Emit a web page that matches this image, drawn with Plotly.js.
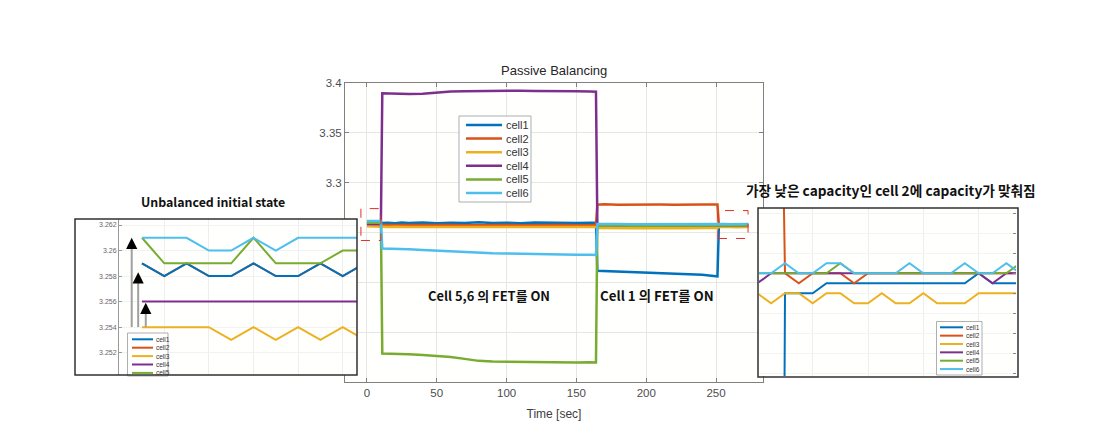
<!DOCTYPE html>
<html><head><meta charset="utf-8">
<script src="https://cdn.plot.ly/plotly-3.0.1.min.js"></script>
<style>html,body{margin:0;padding:0;background:#fff}</style>
</head><body><div id="chart" style="width:1102px;height:437px"></div>
<script>
// ---------- series names / colours ----------
const cellNames = ['cell1','cell2','cell3','cell4','cell5','cell6'];
const cellColors = ['#0072BD','#D95319','#EDB120','#7E2F8E','#77AC30','#4DBEEE'];

// ---------- main chart: Passive Balancing ----------
const timeSec = [0,3,6,9,10,11,15,20,25,30,40,50,60,70,80,90,100,110,120,130,140,150,160,164,165,170,180,190,200,210,220,230,240,250,251,252,256,260,265,270,273];
const cell1V = [3.2600,3.2597,3.2601,3.2598,3.2600,3.2596,3.2598,3.2593,3.2600,3.2596,3.2601,3.2594,3.2599,3.2595,3.2602,3.2596,3.2599,3.2594,3.2600,3.2597,3.2601,3.2595,3.2599,3.2597,3.2115,3.2112,3.2106,3.2101,3.2098,3.2093,3.2088,3.2081,3.2077,3.2062,3.2060,3.2565,3.2568,3.2566,3.2568,3.2566,3.2567];
const cell2V = [3.2578,3.2576,3.2579,3.2577,3.2578,3.2574,3.2576,3.2573,3.2577,3.2574,3.2576,3.2572,3.2575,3.2573,3.2576,3.2572,3.2575,3.2573,3.2576,3.2572,3.2575,3.2573,3.2576,3.2574,3.2780,3.2783,3.2779,3.2782,3.2778,3.2781,3.2779,3.2783,3.2780,3.2782,3.2781,3.2578,3.2575,3.2577,3.2575,3.2577,3.2576];
const cell3V = [3.2562,3.2560,3.2563,3.2561,3.2562,3.2556,3.2554,3.2557,3.2553,3.2556,3.2554,3.2557,3.2553,3.2556,3.2554,3.2557,3.2553,3.2556,3.2554,3.2557,3.2553,3.2556,3.2554,3.2555,3.2546,3.2544,3.2547,3.2543,3.2546,3.2544,3.2547,3.2543,3.2546,3.2544,3.2545,3.2555,3.2552,3.2556,3.2553,3.2555,3.2554];
const cell4V = [3.2585,3.2584,3.2586,3.2585,3.2585,3.3897,3.3895,3.3892,3.3890,3.3890,3.3893,3.3905,3.3915,3.3918,3.3920,3.3922,3.3925,3.3922,3.3920,3.3921,3.3918,3.3917,3.3915,3.3913,3.2570,3.2569,3.2571,3.2568,3.2570,3.2569,3.2571,3.2568,3.2570,3.2569,3.2570,3.2572,3.2570,3.2573,3.2571,3.2572,3.2571];
const cell5V = [3.2598,3.2597,3.2599,3.2598,3.2598,3.1285,3.1282,3.1283,3.1280,3.1278,3.1272,3.1262,3.1250,3.1232,3.1212,3.1205,3.1203,3.1198,3.1200,3.1196,3.1198,3.1195,3.1197,3.1196,3.2568,3.2566,3.2569,3.2567,3.2568,3.2566,3.2569,3.2567,3.2568,3.2566,3.2567,3.2568,3.2570,3.2567,3.2569,3.2568,3.2569];
const cell6V = [3.2615,3.2613,3.2616,3.2614,3.2615,3.2340,3.2339,3.2338,3.2335,3.2332,3.2325,3.2318,3.2310,3.2303,3.2297,3.2293,3.2290,3.2289,3.2286,3.2284,3.2282,3.2278,3.2276,3.2275,3.2585,3.2583,3.2586,3.2584,3.2585,3.2583,3.2586,3.2584,3.2585,3.2583,3.2584,3.2584,3.2586,3.2583,3.2585,3.2584,3.2585];
const mainSeries = [cell1V,cell2V,cell3V,cell4V,cell5V,cell6V];
const mainXTicks = [0,50,100,150,200,250];
const mainYTicks = [3.15,3.2,3.25,3.3,3.35,3.4];

// ---------- left inset: Unbalanced initial state ----------
const initIdx = [0,1,2,3,4,5,6,7,8,9,10];
const init1 = [3.259,3.258,3.259,3.258,3.258,3.259,3.258,3.258,3.259,3.258,3.259];
const init2 = [3.259,3.258,3.259,3.258,3.258,3.259,3.258,3.258,3.259,3.258,3.259];
const init3 = [3.254,3.254,3.254,3.254,3.253,3.254,3.253,3.254,3.253,3.254,3.253];
const init4 = [3.256,3.256,3.256,3.256,3.256,3.256,3.256,3.256,3.256,3.256,3.256];
const init5 = [3.261,3.259,3.259,3.259,3.259,3.261,3.259,3.259,3.259,3.260,3.260];
const init6 = [3.261,3.261,3.261,3.260,3.260,3.261,3.260,3.261,3.261,3.261,3.261];
const initSeries = [init1,init2,init3,init4,init5,init6];
const initDrawOrder = [1,0,2,3,4,5];   // cell2 lies under cell1
// arrows: sample position, tail value, head value
const arrowIdx = [-0.46,-0.17,0.17];
const arrowTail = [3.2539,3.2539,3.2539];
const arrowHead = [3.2610,3.2583,3.2559];

// ---------- right inset: after balancing ----------
const endIdxA = [0,1,1.8,2,3,4,5,6,7,8,9,10,11,12,13,14,15,16,17,18,19];
const endIdxB = [0,1,2,3,4,5,6,7,8,9,10,11,12,13,14,15,16,17,18,19];
const end1 = [3.2062,3.2062,3.2062,3.259,3.259,3.259,3.260,3.260,3.260,3.260,3.260,3.260,3.260,3.260,3.260,3.260,3.260,3.261,3.260,3.260,3.260];
const end2 = [3.278,3.278,3.278,3.261,3.260,3.261,3.261,3.261,3.260,3.261,3.261,3.261,3.261,3.261,3.261,3.261,3.261,3.261,3.261,3.261,3.261];
const end3 = [3.259,3.258,3.259,3.259,3.258,3.259,3.259,3.258,3.258,3.259,3.258,3.258,3.259,3.258,3.258,3.258,3.259,3.259,3.259,3.259];
const end4 = [3.260,3.261,3.261,3.261,3.261,3.261,3.261,3.261,3.261,3.261,3.261,3.261,3.261,3.261,3.261,3.261,3.261,3.260,3.261,3.261];
const end5 = [3.261,3.261,3.261,3.261,3.261,3.261,3.262,3.261,3.261,3.261,3.261,3.261,3.261,3.261,3.261,3.261,3.261,3.261,3.261,3.262];
const end6 = [3.261,3.261,3.262,3.261,3.261,3.262,3.262,3.261,3.261,3.261,3.261,3.262,3.261,3.261,3.261,3.262,3.261,3.261,3.262,3.261];
const endSeries = [end1,end2,end3,end4,end5,end6];
const endX = [endIdxA,endIdxA,endIdxB,endIdxB,endIdxB,endIdxB];

// ---------- texts ----------
const mainTitle = 'Passive Balancing';
const xTitle = 'Time [sec]';
const leftTitle = 'Unbalanced initial state';
const rightTitle = '가장 낮은 capacity인 cell 2에 capacity가 맞춰짐';
const note1 = 'Cell 5,6 의 FET를 ON';
const note2 = 'Cell 1 의 FET를 ON';

// ---------- helpers ----------
const W = 1102, H = 437;
const px = x => x / W;
const py = y => 1 - y / H;
const LAT = 'Liberation Sans, Arial, sans-serif';
const KR = 'Noto Sans CJK KR, sans-serif';

const traces = [];
mainSeries.forEach((v, i) => traces.push({
  x: timeSec, y: v, type: 'scatter', mode: 'lines', name: cellNames[i],
  xaxis: 'x', yaxis: 'y', line: {color: cellColors[i], width: 2.5}, showlegend: false
}));
initDrawOrder.forEach(i => traces.push({
  x: initIdx, y: initSeries[i], type: 'scatter', mode: 'lines', name: cellNames[i],
  xaxis: 'x2', yaxis: 'y2', line: {color: cellColors[i], width: 2}, showlegend: false
}));
endSeries.forEach((v, i) => traces.push({
  x: endX[i], y: v, type: 'scatter', mode: 'lines', name: cellNames[i],
  xaxis: 'x3', yaxis: 'y3', line: {color: cellColors[i], width: 2}, showlegend: false
}));

const shapes = [];
const annotations = [];

function drawLegend(box, y0, dy, lx0, lx1, tx, fs, lw, n) {
  shapes.push({type: 'rect', xref: 'paper', yref: 'paper', layer: 'above',
    x0: px(box[0]), x1: px(box[1]), y0: py(box[3]), y1: py(box[2]),
    fillcolor: '#ffffff', line: {color: '#9a9a9a', width: 0.8}});
  for (let i = 0; i < n; i++) {
    const y = y0 + dy * i;
    shapes.push({type: 'line', xref: 'paper', yref: 'paper', layer: 'above',
      x0: px(lx0), x1: px(lx1), y0: py(y), y1: py(y),
      line: {color: cellColors[i], width: lw}});
    annotations.push({xref: 'paper', yref: 'paper', x: px(tx), y: py(y),
      xanchor: 'left', yanchor: 'middle', showarrow: false, text: cellNames[i],
      font: {family: LAT, size: fs, color: '#333'}});
  }
}

// main legend
drawLegend([459, 531, 116, 202], 125, 13.6, 466, 502, 504, 11, 2.5, 6);
// left inset legend (cut by the frame)
drawLegend([127.5, 168, 333, 376], 339.3, 8.4, 132, 153, 154, 6.5, 2, 5);
// right inset legend
drawLegend([936.5, 982, 321.5, 375], 327.3, 8.35, 940, 963, 964, 6.5, 2, 6);

// inset frames
shapes.push({type: 'rect', xref: 'paper', yref: 'paper', layer: 'above',
  x0: px(75), x1: px(357), y0: py(375), y1: py(219), line: {color: '#303030', width: 1.5}});
shapes.push({type: 'rect', xref: 'paper', yref: 'paper', layer: 'above',
  x0: px(758), x1: px(1018), y0: py(377), y1: py(208), line: {color: '#303030', width: 1.5}});

// red dashed boxes on the main chart
shapes.push({type: 'rect', xref: 'x', yref: 'y', layer: 'above',
  x0: -4.3, x1: 10.0, y0: 3.242, y1: 3.274, line: {color: '#e0302a', width: 1, dash: 'dash'}});
shapes.push({type: 'rect', xref: 'x', yref: 'y', layer: 'above',
  x0: 251.4, x1: 272.9, y0: 3.244, y1: 3.272, line: {color: '#e0302a', width: 1, dash: 'dash'}});

// arrows in left inset
arrowIdx.forEach((k, i) => {
  annotations.push({xref: 'x2', yref: 'y2', axref: 'x2', ayref: 'y2',
    x: k, y: arrowHead[i] - 0.0004, ax: k, ay: arrowTail[i], text: '', showarrow: true,
    arrowhead: 0, arrowwidth: 2, arrowcolor: '#a0a0a0'});
  annotations.push({xref: 'x2', yref: 'y2', axref: 'x2', ayref: 'y2',
    x: k, y: arrowHead[i], ax: k, ay: arrowHead[i] - 0.0005, text: '', showarrow: true,
    arrowhead: 2, arrowsize: 1.4, arrowwidth: 1.6, arrowcolor: '#000'});
});

// titles and notes
annotations.push({xref: 'paper', yref: 'paper', x: px(554), y: py(70), showarrow: false,
  text: mainTitle, xanchor: 'center', yanchor: 'middle', font: {family: LAT, size: 13, color: '#262626'}});
annotations.push({xref: 'paper', yref: 'paper', x: px(213), y: py(202), showarrow: false,
  text: '<b>' + leftTitle + '</b>', xanchor: 'center', yanchor: 'middle', font: {family: KR, size: 12.4, color: '#111'}});
annotations.push({xref: 'paper', yref: 'paper', x: px(891), y: py(190), showarrow: false,
  text: '<b>' + rightTitle + '</b>', xanchor: 'center', yanchor: 'middle', font: {family: KR, size: 13.7, color: '#111'}});
annotations.push({xref: 'paper', yref: 'paper', x: px(489), y: py(295), showarrow: false,
  text: '<b>' + note1 + '</b>', xanchor: 'center', yanchor: 'middle', font: {family: KR, size: 12.9, color: '#111'}});
annotations.push({xref: 'paper', yref: 'paper', x: px(657), y: py(295), showarrow: false,
  text: '<b>' + note2 + '</b>', xanchor: 'center', yanchor: 'middle', font: {family: KR, size: 13.3, color: '#111'}});

const gridC = '#e6e6e6';
const layout = {
  width: W, height: H, margin: {l: 0, r: 0, t: 0, b: 0}, autosize: false,
  paper_bgcolor: '#ffffff', plot_bgcolor: 'rgb(255,255,254)', showlegend: false,
  xaxis: {domain: [px(345), px(763)], range: [-15.7, 283.6], tickvals: mainXTicks,
    showgrid: true, gridcolor: gridC, zeroline: false, showline: true, mirror: 'ticks',
    linecolor: '#808080', linewidth: 1, ticks: 'inside', ticklen: 4, tickcolor: '#808080',
    tickfont: {family: LAT, size: 11.5, color: '#4d4d4d'},
    title: {text: xTitle, standoff: 11, font: {family: LAT, size: 12, color: '#404040'}}},
  yaxis: {domain: [py(382), py(83)], range: [3.1, 3.4], tickvals: mainYTicks,
    showgrid: true, gridcolor: gridC, zeroline: false, showline: true, mirror: 'ticks',
    linecolor: '#808080', linewidth: 1, ticks: 'inside', ticklen: 4, tickcolor: '#808080',
    tickfont: {family: LAT, size: 11.5, color: '#4d4d4d'}},
  xaxis2: {domain: [px(119), px(357)], range: [-1.03, 9.64], anchor: 'y2',
    tick0: 1, dtick: 2, showticklabels: false, ticks: '', showgrid: true, gridcolor: '#eeeeee',
    zeroline: false, showline: false},
  yaxis2: {domain: [py(375), py(219)], range: [3.25025, 3.26247], anchor: 'x2',
    tick0: 3.252, dtick: 0.002, showgrid: true, gridcolor: '#f2f2f2', zeroline: false,
    showline: true, linecolor: '#9a9a9a', linewidth: 1, ticks: 'inside', ticklen: 3, tickcolor: '#9a9a9a',
    tickfont: {family: LAT, size: 7, color: '#666'}},
  xaxis3: {domain: [px(759), px(1016)], range: [0.12, 18.7], anchor: 'y3',
    tick0: 0, dtick: 4, showticklabels: false, ticks: '', showgrid: true, gridcolor: '#eeeeee',
    zeroline: false, showline: false},
  yaxis3: {domain: [py(376), py(208)], range: [3.25073, 3.26753], anchor: 'x3', side: 'right',
    tick0: 3.261, dtick: 0.002, showticklabels: false, showgrid: true, gridcolor: '#f4f4f4', zeroline: false,
    showline: false, ticks: 'inside', ticklen: 3, tickcolor: '#888'},
  shapes: shapes, annotations: annotations
};

Plotly.newPlot('chart', traces, layout, {staticPlot: true, displayModeBar: false});
</script></body></html>
